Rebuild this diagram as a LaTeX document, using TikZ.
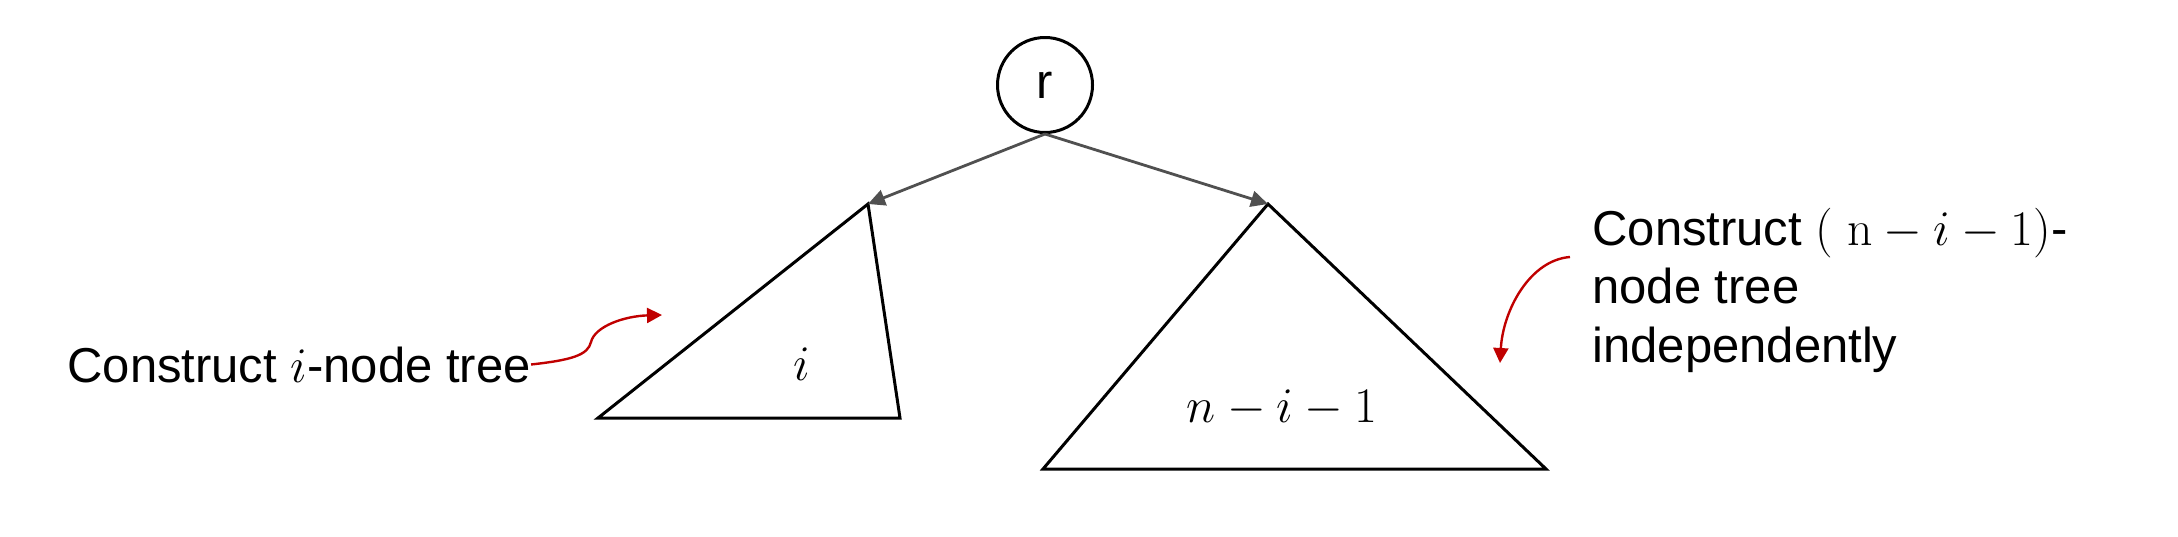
\documentclass[tikz,border=0pt]{standalone}
\usepackage[no-math]{fontspec}
\setmainfont{Liberation Sans}
\usetikzlibrary{arrows.meta}
\definecolor{redarr}{HTML}{C00000}
\definecolor{grayarr}{HTML}{505050}
\begin{document}
\begin{tikzpicture}[x=0.5pt,y=-0.5pt,
  lbl/.style={inner sep=0pt, font=\fontsize{24.5}{29.25}\selectfont},
  mlbl/.style={inner sep=0pt, font=\fontsize{24}{28}\selectfont},
  tri/.style={draw=black, line width=1.5pt, line join=miter},
  edge/.style={draw=grayarr, line width=1.4pt, -{Triangle[length=8.5pt,width=8pt]}},
  note/.style={draw=redarr, line width=1.2pt, -{Triangle[length=7.5pt,width=7.5pt]}},
]
\useasboundingbox (0,0) rectangle (2178,536);
% root
\node[circle, draw, line width=1.5pt, minimum size=47.5pt, inner sep=0pt, lbl] (r) at (1045,85) {r};
% left subtree
\coordinate (Lapex) at (868,204);
\coordinate (Lbl) at (598,418);
\coordinate (Lbr) at (900,418);
\draw[tri] (Lapex) -- (Lbl) -- (Lbr) -- cycle;
\node[mlbl, anchor=base] (li) at (802,380) {$i$};
% right subtree
\coordinate (Rapex) at (1268,204);
\coordinate (Rbl) at (1043,469);
\coordinate (Rbr) at (1546,469);
\draw[tri] (Rapex) -- (Rbl) -- (Rbr) -- cycle;
\node[mlbl, anchor=base] (ri) at (1282,422) {$n-i-1$};
% edges
\draw[edge] (r.south) -- (Lapex);
\draw[edge] (r.south) -- (Rapex);
% notes
\node[lbl, anchor=base west] (lt) at (67,382) {Construct $i$-node tree};
\node[lbl, anchor=base west, align=left] (rt) at (1592,362) {Construct $(\;\mathrm{n}-i-1)$-\\node tree\\independently};
\coordinate (Ltip) at (662,315);
\draw[note] (lt.east) .. controls (572,360) and (588,355) .. (591,342) .. controls (595,326) and (625,316) .. (Ltip);
\coordinate (Rs) at (1570,257);
\coordinate (Rtip) at (1500,363);
\draw[note] (Rs) .. controls (1530,260) and (1503,310) .. (Rtip);
\end{tikzpicture}
\end{document}
